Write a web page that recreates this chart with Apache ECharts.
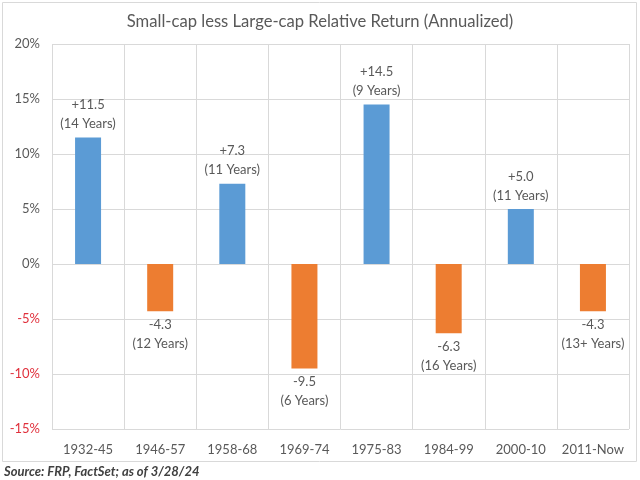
<!DOCTYPE html>
<html><head><meta charset="utf-8">
<script src="https://cdn.jsdelivr.net/npm/echarts@6/dist/echarts.min.js"></script>
<style>html,body{margin:0;padding:0;background:#fff}#c{width:640px;height:480px}</style>
</head><body><div id="c"></div>
<script>
const categories = ['1932-45','1946-57','1958-68','1969-74','1975-83','1984-99','2000-10','2011-Now'];
const values = [11.5, -4.3, 7.3, -9.5, 14.5, -6.3, 5.0, -4.3];
const years = ['14 Years','12 Years','11 Years','6 Years','9 Years','16 Years','11 Years','13+ Years'];
const yTicks = {min: -15, max: 20, interval: 5};

const FONT = 'Lato, "Open Sans", sans-serif';
const chart = echarts.init(document.getElementById('c'));
const data = values.map((v, i) => ({
  value: v,
  itemStyle: {color: v >= 0 ? '#5b9bd5' : '#ed7d31'},
  label: {position: v >= 0 ? 'top' : 'bottom'}
}));
chart.setOption({
  animation: false,
  title: {
    text: 'Small-cap less Large-cap Relative Return (Annualized)',
    left: 'center', top: 8,
    textStyle: {fontFamily: FONT, fontSize: 16.6, fontWeight: 'normal', color: '#595959'}
  },
  graphic: [
    {type: 'rect', shape: {x: 2.5, y: 2.5, width: 634, height: 459}, style: {fill: 'none', stroke: '#d9d9d9', lineWidth: 1}, z: -1},
    {type: 'text', left: 4, top: 465, style: {text: 'Source: FRP, FactSet; as of 3/28/24', fontFamily: FONT, fontSize: 13, fontStyle: 'italic', fontWeight: 'bold', fill: '#404040'}}
  ],
  grid: {left: 52, right: 11, top: 44, bottom: 51},
  xAxis: {
    type: 'category', data: categories,
    axisLine: {show: false}, axisTick: {show: false, interval: 0},
    splitLine: {show: true, interval: 0, lineStyle: {color: '#d9d9d9'}},
    axisLabel: {interval: 0, fontFamily: FONT, fontSize: 13, color: '#595959', margin: 14}
  },
  yAxis: {
    type: 'value', min: yTicks.min, max: yTicks.max, interval: yTicks.interval,
    axisLine: {show: false}, axisTick: {show: false},
    splitLine: {lineStyle: {color: '#d9d9d9'}},
    axisLabel: {fontFamily: FONT, fontSize: 13, margin: 12,
      formatter: v => v + '%',
      color: v => (v < 0 ? '#e0303c' : '#595959')}
  },
  series: [{
    type: 'bar', data: data, barWidth: 26,
    label: {
      show: true, distance: 4, fontFamily: FONT, fontSize: 13, color: '#595959', lineHeight: 19,
      formatter: p => (p.value > 0 ? '+' + p.value.toFixed(1) : p.value.toFixed(1)) + '\n(' + years[p.dataIndex] + ')'
    }
  }]
});
</script></body></html>
